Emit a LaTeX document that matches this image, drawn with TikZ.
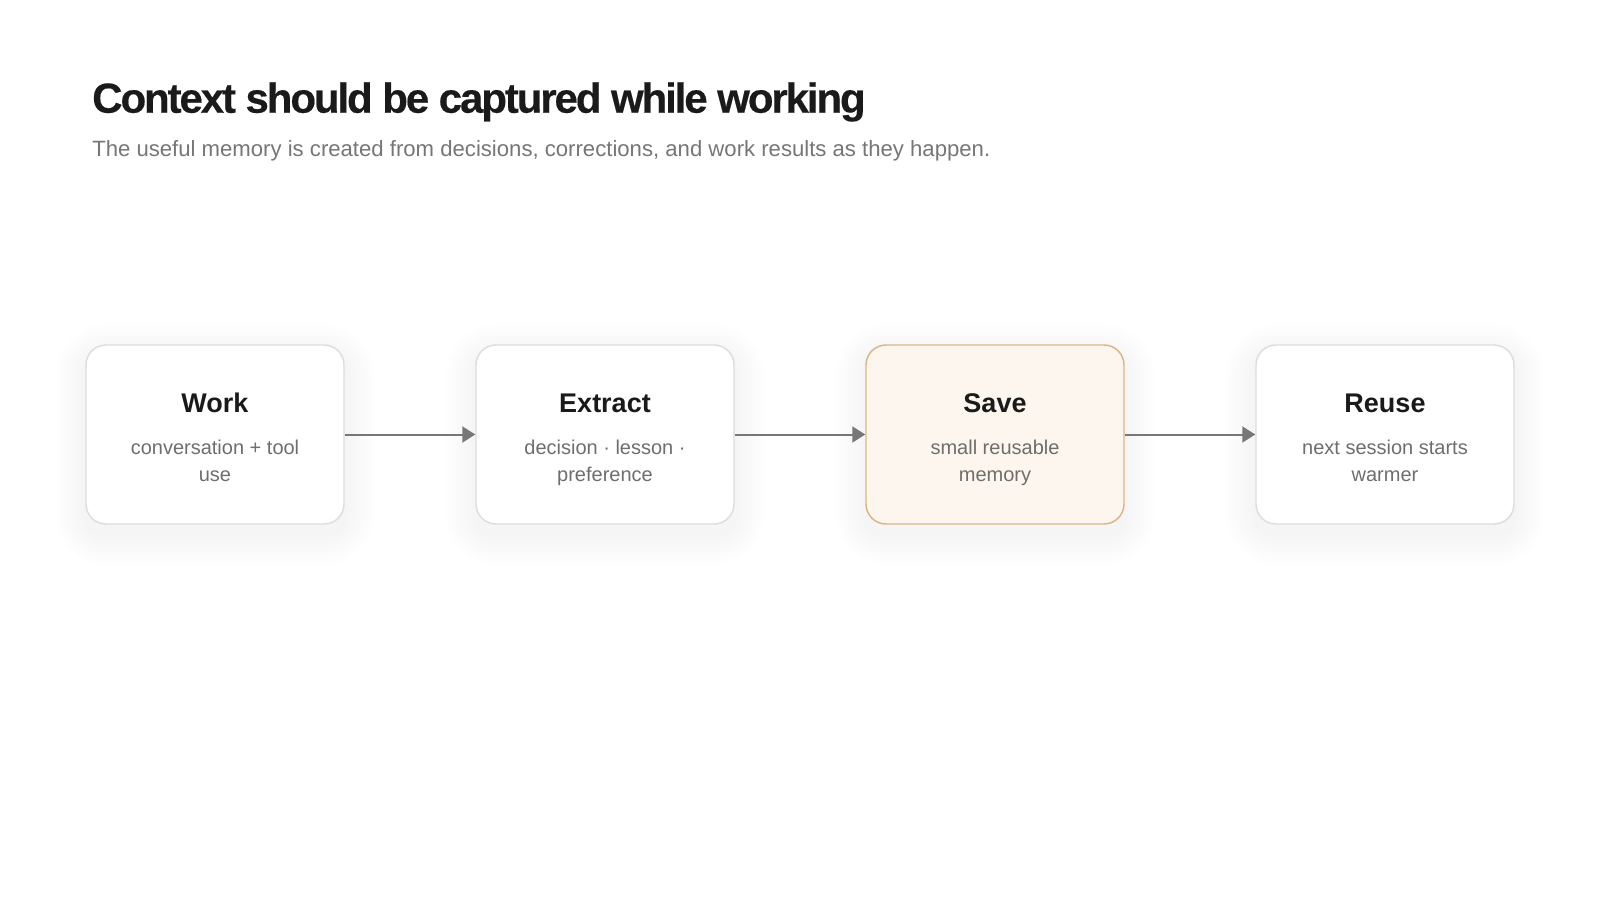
\documentclass[tikz,border=0pt]{standalone}
\usepackage{fontspec}
\setmainfont{Liberation Sans}
\newfontfamily\titlefont[LetterSpace=-5, BoldFeatures={FakeBold=0.4}]{Liberation Sans}
\usetikzlibrary{arrows.meta,calc}
\pgfdeclarelayer{background}
\pgfsetlayers{background,main}
\definecolor{titlecol}{HTML}{1A1A1A}
\definecolor{subcol}{HTML}{767676}
\definecolor{desccol}{HTML}{6E6E6E}
\definecolor{boxline}{HTML}{DDDDDD}
\definecolor{saveline}{HTML}{DDB485}
\definecolor{savefill}{HTML}{FDF6EE}
\definecolor{arrowcol}{HTML}{777777}
\begin{document}
\begin{tikzpicture}[x=0.75pt,y=-0.75pt,
  stagebox/.style={draw=boxline, line width=1.1pt, fill=white, rounded corners=15pt, minimum width=193.5pt, minimum height=134.25pt, inner sep=0pt},
  hotbox/.style={stagebox, draw=saveline, fill=savefill},
  stagetitle/.style={font=\fontsize{20.25pt}{24pt}\selectfont\bfseries, text=titlecol, anchor=base, inner sep=0pt},
  stagedesc/.style={font=\fontsize{15pt}{20.25pt}\selectfont, text=desccol, align=center, inner sep=0pt},
  flow/.style={draw=arrowcol, line width=1.5pt, -{Triangle[length=9.75pt,width=12pt]}},
  shadowlayer/.style={fill=black, opacity=0.0045},
]
\useasboundingbox (0,0) rectangle (1600,900);

\node[anchor=base west, inner sep=0pt, text=titlecol, font=\titlefont\bfseries\fontsize{31.5pt}{36pt}\selectfont] (title) at (92,112.7) {Context should be captured while working};
\node[anchor=base west, inner sep=0pt, text=subcol, font=\fontsize{16.6pt}{20pt}\selectfont] (subtitle) at (92,156) {The useful memory is created from decisions, corrections, and work results as they happen.};

\node[stagebox] (work) at (215,434.5) {};
\node[stagebox] (extract) at (605,434.5) {};
\node[hotbox] (save) at (995,434.5) {};
\node[stagebox] (reuse) at (1385,434.5) {};

\node[stagetitle] (workT) at (215,412) {Work};
\node[stagetitle] (extractT) at (605,412) {Extract};
\node[stagetitle] (saveT) at (995,412) {Save};
\node[stagetitle] (reuseT) at (1385,412) {Reuse};

\node[stagedesc] (workD) at (215,462.5) {\strut conversation + tool\\\strut use};
\node[stagedesc] (extractD) at (605,462.5) {\strut decision · lesson ·\\\strut preference};
\node[stagedesc] (saveD) at (995,462.5) {\strut small reusable\\\strut memory};
\node[stagedesc] (reuseD) at (1385,462.5) {\strut next session starts\\\strut warmer};

\draw[flow] (work.east) -- (extract.west);
\draw[flow] (extract.east) -- (save.west);
\draw[flow] (save.east) -- (reuse.west);

\begin{pgfonlayer}{background}
\fill[white] (0,0) rectangle (1600,900);
\foreach \n in {work,extract,save,reuse}{
  \foreach \k in {1,...,10}{
    \fill[shadowlayer, rounded corners=15pt+\k*2.25pt] ($(\n.south west)+(-\k*3,\k*3+10)$) rectangle ($(\n.north east)+(\k*3,-\k*3+10)$);
  }
}
\end{pgfonlayer}
\end{tikzpicture}
\end{document}
